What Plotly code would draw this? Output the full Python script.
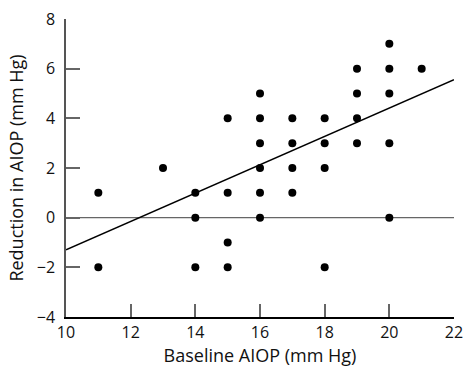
import plotly.graph_objects as go

baseline = [11, 11, 13, 14, 14, 14, 15, 15, 15, 15,
            16, 16, 16, 16, 16, 16, 17, 17, 17, 17,
            18, 18, 18, 18, 19, 19, 19, 19, 20, 20, 20, 20, 20, 21]
reduction = [1, -2, 2, 1, 0, -2, 4, 1, -1, -2,
             5, 4, 3, 2, 1, 0, 4, 3, 2, 1,
             4, 3, 2, -2, 6, 5, 4, 3, 7, 6, 5, 3, 0, 6]
fit_x = [10, 22]
fit_y = [-1.29, 5.56]
zero_x = [10, 22]
zero_y = [0, 0]
x_ticks = [10, 12, 14, 16, 18, 20, 22]
y_ticks = [-4, -2, 0, 2, 4, 6, 8]

font_family = "'Open Sans', sans-serif"

fig = go.Figure()
fig.add_trace(go.Scatter(x=zero_x, y=zero_y, mode="lines",
                         line=dict(color="#666666", width=1.2), hoverinfo="skip"))
fig.add_trace(go.Scatter(x=fit_x, y=fit_y, mode="lines",
                         line=dict(color="black", width=1.5)))
fig.add_trace(go.Scatter(x=baseline, y=reduction, mode="markers",
                         marker=dict(color="black", size=8)))

fig.update_layout(
    width=466, height=370,
    margin=dict(l=66, r=12, t=19, b=53),
    paper_bgcolor="white", plot_bgcolor="white",
    showlegend=False,
    font=dict(family=font_family, size=16, color="#111111"),
    xaxis=dict(range=[10, 22], tickvals=x_ticks, ticks="inside", ticklen=13,
               tickcolor="#666666", tickwidth=1.5, showgrid=False, zeroline=False,
               showline=True, linecolor="black", linewidth=1.5,
               ticklabeloverflow="allow", automargin=False,
               title=dict(text="Baseline AIOP (mm Hg)", font=dict(size=18), standoff=2),
               tickfont=dict(size=16)),
    yaxis=dict(range=[-4, 8], tickvals=y_ticks, ticks="inside", ticklen=14,
               tickcolor="#666666", tickwidth=1.5, showgrid=False, zeroline=False,
               showline=True, linecolor="#555555", linewidth=1.5,
               ticklabeloverflow="allow", automargin=False, ticklabelstandoff=6,
               title=dict(text="Reduction in AIOP (mm Hg)", font=dict(size=18), standoff=8),
               tickfont=dict(size=16)),
)

fig.write_html("out.html", config={"displayModeBar": False},
               post_script="document.body.style.margin='0';")
